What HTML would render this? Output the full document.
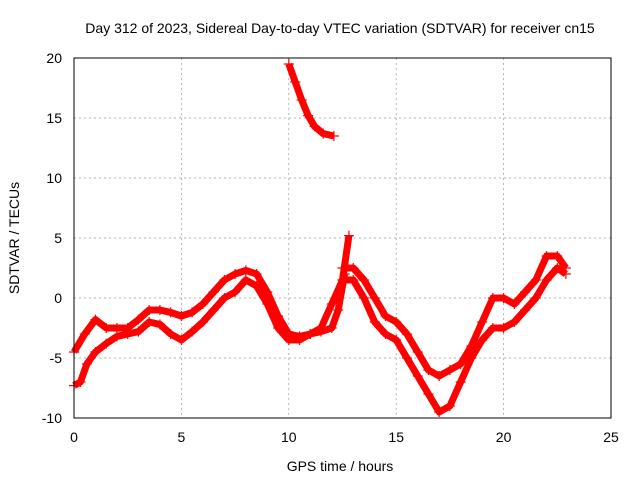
<!DOCTYPE html>
<html><head><meta charset="utf-8"><style>
body{margin:0;background:#fff;}
svg{display:block;font-family:"Liberation Sans",sans-serif;}
</style></head><body>
<svg id="chart" width="640" height="480">
<text x="340" y="33" font-size="14" text-anchor="middle">Day 312 of 2023, Sidereal Day-to-day VTEC variation (SDTVAR) for receiver cn15</text>
<text x="340" y="471" font-size="14" text-anchor="middle">GPS time / hours</text>
<text transform="translate(19,238) rotate(-90)" font-size="14" text-anchor="middle">SDTVAR / TECUs</text>
<g id="grid"></g><g id="series"></g>
<rect x="74" y="58" width="537" height="360" fill="none" stroke="#000"/>
</svg>
<script>
const xTicks=[0,5,10,15,20,25];
const yTicks=[-10,-5,0,5,10,15,20];
const s1h=[0,0.5,1,1.5,2,2.5,3,3.5,4,4.5,5,5.5,6,6.5,7,7.5,8,8.5,9,9.5,10,10.5,11,11.5,12,12.3,12.6];
const s1v=[-4.5,-3,-1.8,-2.5,-2.5,-2.5,-1.8,-1,-1,-1.2,-1.5,-1.2,-0.5,0.5,1.5,2,2.3,2,0.5,-1.5,-3,-3.2,-3,-2.8,-2.5,-1,2];
const s2h=[0,0.3,0.6,1,1.5,2,2.5,3,3.5,4,4.5,5,5.5,6,6.5,7,7.5,8,8.5,9,9.5,10,10.5,11,11.5,12,12.5,12.8];
const s2v=[-7.3,-7,-5.5,-4.5,-3.8,-3.2,-3,-2.8,-2,-2.2,-3,-3.5,-2.8,-2,-1,0,0.5,1.5,1,-0.5,-2.5,-3.5,-3.5,-3,-2.5,-0.5,1.5,5.2];
const s3h=[10,10.3,10.6,10.9,11.2,11.6,12.1];
const s3v=[19.5,18,16.5,15.2,14.3,13.7,13.5];
const s4h=[12.5,13,13.5,14,14.5,15,15.5,16,16.5,17,17.5,18,18.5,19,19.5,20,20.5,21,21.5,22,22.5,22.9];
const s4v=[2.5,2.5,1.5,0,-1.5,-2,-3,-4.5,-6,-6.5,-6,-5.5,-4,-2,0,0,-0.5,0.5,1.5,3.5,3.5,2.5];
const s5h=[12.5,13,13.5,14,14.5,15,15.5,16,16.5,17,17.5,18,18.5,19,19.5,20,20.5,21,21.5,22,22.5,22.9];
const s5v=[1.5,1.5,0,-2,-3,-3.5,-5,-6.5,-8,-9.5,-9,-7,-5,-3.5,-2.5,-2.5,-2,-1,0,1.5,2.5,2];
const NS="http://www.w3.org/2000/svg";
const X=h=>74+h*537/25, Y=v=>418-(v+10)*12;
const grid=document.getElementById('grid'), ser=document.getElementById('series'), svg=document.getElementById('chart');
function mk(t,a,p){const e=document.createElementNS(NS,t);for(const k in a)e.setAttribute(k,a[k]);p.appendChild(e);return e;}
xTicks.forEach(t=>{
 if(t>0&&t<25){const g=mk('line',{x1:X(t),x2:X(t),y1:58,y2:418,stroke:'#999','stroke-dasharray':'2,3','stroke-width':0.7},grid);
 
 }
 const l=mk('text',{x:X(t),y:442,'font-size':14,'text-anchor':'middle'},svg);l.textContent=t;
 
 
});
yTicks.forEach(t=>{
 if(t>-10&&t<20){const g=mk('line',{x1:74,x2:611,y1:Y(t),y2:Y(t),stroke:'#999','stroke-dasharray':'2,3','stroke-width':0.7},grid);
 
 }
 const l=mk('text',{x:62,y:Y(t)+5,'font-size':14,'text-anchor':'end'},svg);l.textContent=t;
 
 
});
[[s1h,s1v],[s2h,s2v],[s3h,s3v],[s4h,s4v],[s5h,s5v]].forEach(([hs,vs],i)=>{
 const pl=mk('polyline',{points:hs.map((h,j)=>X(h)+','+Y(vs[j])).join(' '),fill:'none',stroke:'#f00','stroke-width':7,'stroke-linejoin':'round'},ser);
 
 
 hs.forEach((h,j)=>{const x=X(h),y=Y(vs[j]);
  const p=mk('path',{d:`M${x-5},${y}h10M${x},${y-5}v10`,stroke:'#f00','stroke-width':1.2},ser);
  
  });
});
</script>
</body></html>
